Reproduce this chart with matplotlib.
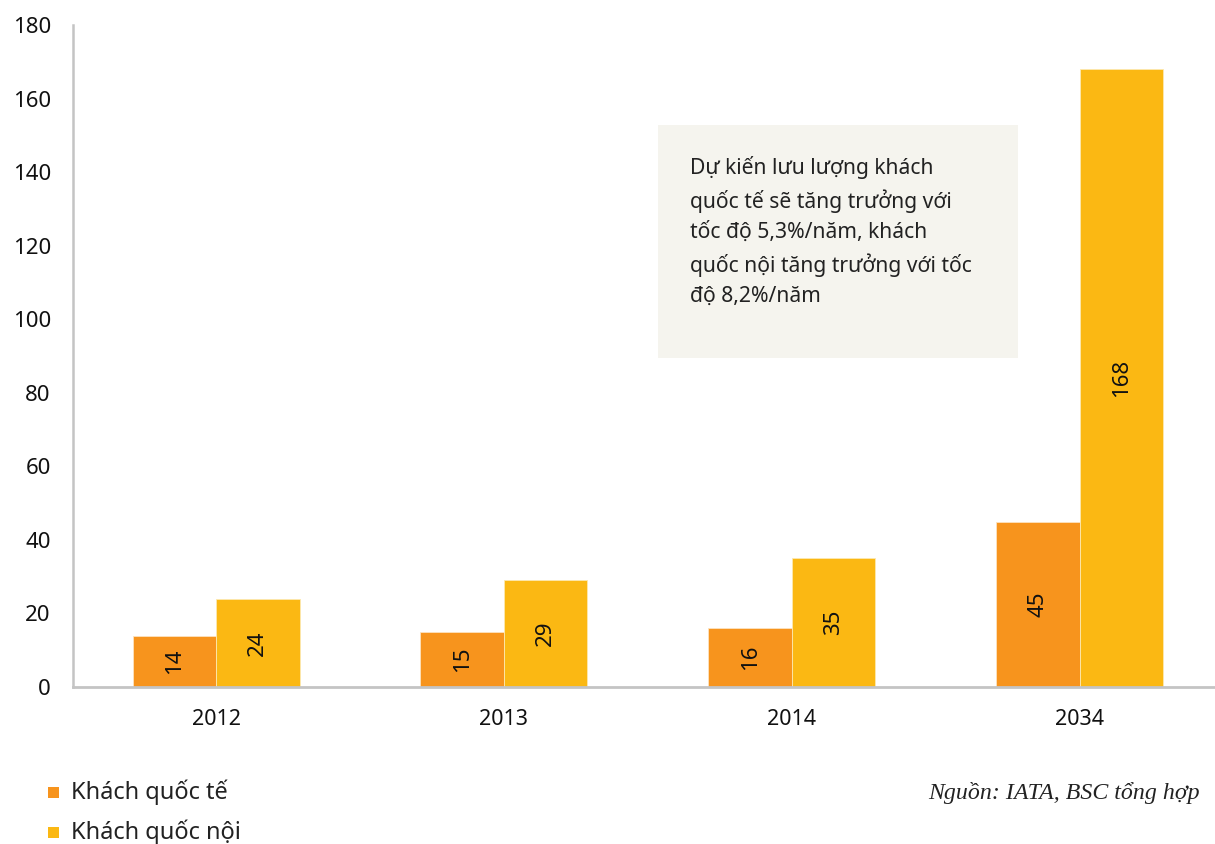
import matplotlib.pyplot as plt
import numpy as np
from matplotlib.patches import Rectangle

plt.rcParams['font.family'] = ['Noto Sans', 'DejaVu Sans']

years = ['2012', '2013', '2014', '2034']
khach_quoc_te = [14, 15, 16, 45]
khach_quoc_noi = [24, 29, 35, 168]
series_names = ['Khách quốc tế', 'Khách quốc nội']
note = ('Dự kiến lưu lượng khách\nquốc tế sẽ tăng trưởng với\n'
        'tốc độ 5,3%/năm, khách\nquốc nội tăng trưởng với tốc\nđộ 8,2%/năm')
source = 'Nguồn: IATA, BSC tổng hợp'

c_orange = '#F7941D'
c_yellow = '#FBB813'
c_grey = '#c4c4c4'

fig = plt.figure(figsize=(12.15, 8.44), dpi=100)
ax = fig.add_axes([0.0601, 0.186, 0.9399, 0.7844])

x = np.arange(len(years))
w = 0.29
b1 = ax.bar(x - w / 2, khach_quoc_te, w, color=c_orange, edgecolor='#fde3c0', linewidth=0.6)
b2 = ax.bar(x + w / 2, khach_quoc_noi, w, color=c_yellow, edgecolor='#fde9b0', linewidth=0.6)

for bars, vals in ((b1, khach_quoc_te), (b2, khach_quoc_noi)):
    for r, v in zip(bars, vals):
        ax.text(r.get_x() + r.get_width() / 2, v / 2, str(v), rotation=90,
                ha='center', va='center', fontsize=16, color='#111111')

ax.set_xlim(-0.497, 3.47)
ax.set_ylim(0, 180)
ax.set_yticks(np.arange(0, 181, 20))
ax.set_xticks(x)
ax.set_xticklabels(years)
ax.tick_params(axis='both', length=0, labelsize=15.5, colors='#111111')
ax.tick_params(axis='y', pad=16, labelsize=16)
ax.tick_params(axis='x', pad=16)

for s in ('top', 'right'):
    ax.spines[s].set_visible(False)
ax.spines['left'].set_color(c_grey)
ax.spines['left'].set_linewidth(1.8)
ax.spines['bottom'].set_color(c_grey)
ax.spines['bottom'].set_linewidth(2)

# note box
fig.patches.append(Rectangle((658 / 1215, 1 - 358 / 844), 360 / 1215, 233 / 844,
                             transform=fig.transFigure, facecolor='#f5f4ee',
                             edgecolor='none', zorder=0.5))
fig.text(690 / 1215, 1 - 156 / 844, note, fontsize=15.2, va='top', ha='left',
         color='#222222', linespacing=1.55)

# legend
for i, (name, col) in enumerate(zip(series_names, [c_orange, c_yellow])):
    yy = 1 - (792 + i * 40) / 844
    fig.patches.append(Rectangle((48 / 1215, yy - 6 / 844), 11 / 1215, 11 / 844,
                                 transform=fig.transFigure, facecolor=col,
                                 edgecolor='none'))
    fig.text(71 / 1215, yy, name, fontsize=17, va='center', ha='left', color='#222222')

fig.text(928 / 1215, 1 - 793 / 844, source, fontsize=17.2, va='center', ha='left',
         family=['Liberation Serif', 'DejaVu Serif'], style='italic', color='#222222')

fig.savefig('out.png', dpi=100)
